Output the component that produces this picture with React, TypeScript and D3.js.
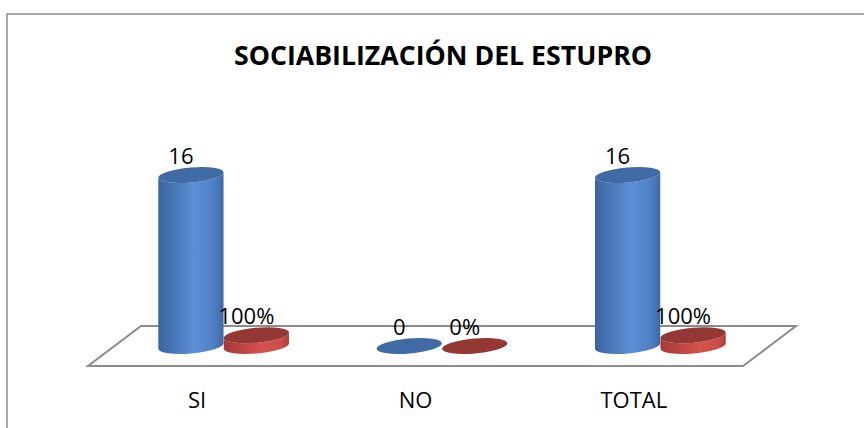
import React from "react";
import { scaleBand, scaleLinear } from "d3";

const categories = ["SI", "NO", "TOTAL"];
const series = ["cantidad", "porcentaje"];
const counts = [16, 0, 16];
const percents = [1, 0, 1];
const countLabels = ["16", "0", "16"];
const percentLabels = ["100%", "0%", "100%"];

const W = 864;
const H = 428;
// 3D floor: depth shift from front edge to back edge
const DX = 53;
const DY = -40;
const FRONT_Y = 366;
const FRONT_LEFT = 88;
const FRONT_RIGHT = 743;
const BASE_Y = FRONT_Y + DY / 2;
const TILT = -5; // deg, ellipse tilt
const RY = 7.5;

function Cylinder({ cx, top, base, rx, kind }: { cx: number; top: number; base: number; rx: number; kind: string }) {
  const t = (TILT * Math.PI) / 180;
  const ex = rx * Math.cos(t);
  const ey = rx * Math.sin(t);
  const body = `M${cx - ex},${top - ey} L${cx - ex},${base - ey}
    A${rx},${RY} ${TILT} 0 0 ${cx + ex},${base + ey}
    L${cx + ex},${top + ey}
    A${rx},${RY} ${TILT} 0 1 ${cx - ex},${top - ey} Z`;
  const capFill = kind === "blue" ? "#3f6aa3" : "#943835";
  return (
    <g>
      {base - top > 0.5 && <path d={body} fill={`url(#grad-${kind})`} />}
      <ellipse cx={cx} cy={top} rx={rx} ry={RY} transform={`rotate(${TILT},${cx},${top})`} fill={capFill} />
    </g>
  );
}

export default function App() {
  const x = scaleBand<string>()
    .domain(categories)
    .range([FRONT_LEFT - DY * 0 + DX / 2, FRONT_RIGHT + DX / 2])
    .paddingInner(0.4)
    .paddingOuter(0.2);
  const xLabel = scaleBand<string>()
    .domain(categories)
    .range([FRONT_LEFT, FRONT_RIGHT]);
  const xs = scaleBand<string>().domain(series).range([0, x.bandwidth()]);
  const y = scaleLinear().domain([0, 16]).range([BASE_Y, 175]);
  const rx = xs.bandwidth() / 2;

  const floor = [
    [FRONT_LEFT + DX, FRONT_Y + DY],
    [FRONT_RIGHT + DX, FRONT_Y + DY],
    [FRONT_RIGHT, FRONT_Y],
    [FRONT_LEFT, FRONT_Y],
  ]
    .map((p) => p.join(","))
    .join(" ");

  const font = "'Open Sans', 'DejaVu Sans', sans-serif";

  return (
    <svg width={W} height={H} style={{ position: "absolute", left: 0, top: 0, background: "#fff" }}>
      <defs>
        <linearGradient id="grad-blue" x1="0" x2="1" y1="0" y2="0">
          <stop offset="0" stopColor="#3a64a0" />
          <stop offset="0.55" stopColor="#5b8fd5" />
          <stop offset="0.85" stopColor="#4f80c4" />
          <stop offset="1" stopColor="#3d68a3" />
        </linearGradient>
        <linearGradient id="grad-red" x1="0" x2="1" y1="0" y2="0">
          <stop offset="0" stopColor="#a33a37" />
          <stop offset="0.6" stopColor="#d5524e" />
          <stop offset="0.9" stopColor="#c94b47" />
          <stop offset="1" stopColor="#a63d3a" />
        </linearGradient>
      </defs>
      <rect x={7} y={14} width={W + 10} height={H} fill="none" stroke="#8a8a8a" strokeWidth={1.5} />
      <text x={443} y={65} textAnchor="middle" fontFamily={font} fontWeight="bold" fontSize={27} textLength={418} lengthAdjust="spacingAndGlyphs" fill="#000">
        SOCIABILIZACIÓN DEL ESTUPRO
      </text>
      <polygon points={floor} fill="#fff" stroke="#8c8c8c" strokeWidth={2} />
      {categories.map((c, i) => {
        const bx = (x(c) ?? 0) + (xs("cantidad") ?? 0) + rx;
        const rxc = (x(c) ?? 0) + (xs("porcentaje") ?? 0) + rx;
        return (
          <g key={c}>
            <Cylinder cx={bx} top={y(counts[i])} base={y(0)} rx={rx} kind="blue" />
            <Cylinder cx={rxc} top={y(percents[i])} base={y(0)} rx={rx} kind="red" />
          </g>
        );
      })}
      {categories.map((c, i) => {
        const bx = (x(c) ?? 0) + (xs("cantidad") ?? 0) + rx;
        const rxc = (x(c) ?? 0) + (xs("porcentaje") ?? 0) + rx;
        return (
          <g key={c + "-lbl"} fontFamily={font} fontSize={22} fill="#000" textAnchor="middle">
            <text x={bx - 10} y={y(counts[i]) - 11}>{countLabels[i]}</text>
            <text x={rxc - 10} y={y(percents[i]) - 11}>{percentLabels[i]}</text>
            <text x={(xLabel(c) ?? 0) + xLabel.bandwidth() / 2} y={408}>{c}</text>
          </g>
        );
      })}
    </svg>
  );
}
